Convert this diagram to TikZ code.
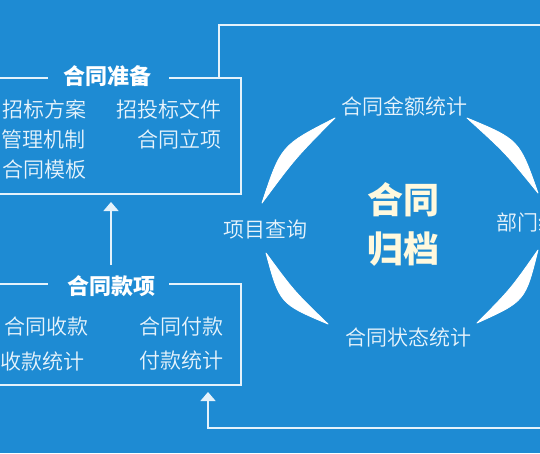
\documentclass[tikz,border=0pt]{standalone}
\usepackage{fontspec}
\setmainfont{Noto Sans CJK SC}
\newfontfamily\cjk{Noto Sans CJK SC}
\newfontfamily\cjklight{Noto Sans CJK SC DemiLight}
\usetikzlibrary{arrows.meta}
\definecolor{bgblue}{RGB}{30,139,211}
\definecolor{linecol}{RGB}{228,242,251}
\definecolor{itemcol}{RGB}{232,244,252}
\definecolor{centercol}{RGB}{255,249,222}
\tikzset{
  item/.style={inner sep=0pt, text=itemcol, font=\cjklight\fontsize{21}{21}\selectfont},
  boxtitle/.style={inner sep=0pt, text=white, font=\cjk\bfseries\fontsize{22}{22}\selectfont},
  bigtitle/.style={inner sep=0pt, text=centercol, font=\cjk\bfseries\fontsize{36}{36}\selectfont},
  frame/.style={draw=linecol, line width=1.5pt},
  arr/.style={draw=linecol, line width=1.5pt, -{Triangle[width=15pt,length=9pt]}},
  lens/.style={fill=white, draw=white, line width=0.8pt, line join=round}
}
\begin{document}
\begin{tikzpicture}[x=1pt,y=-1pt]
\fill[bgblue] (0,0) rectangle (540,453);
\clip (0,0) rectangle (540,453);

% box 1: 合同准备
\node[boxtitle] (tA) at (107.5,76) {合同准备};
\coordinate (A0) at (0,78);
\coordinate (A1) at (48,78);
\coordinate (A2) at (169,78);
\coordinate (A3) at (241,78);
\coordinate (A4) at (241,194);
\coordinate (A5) at (0,194);
\draw[frame] (A0) -- (A1);
\draw[frame] (A2) -- (A3) -- (A4) -- (A5);
\node[item] (a1) at (44.5,109) {招标方案};
\node[item] (a2) at (168.5,109) {招投标文件};
\node[item] (a3) at (43.8,139) {管理机制};
\node[item] (a4) at (179.5,139) {合同立项};
\node[item] (a5) at (44,170) {合同模板};

% box 2: 合同款项
\node[boxtitle] (tB) at (111.7,286) {合同款项};
\coordinate (B0) at (0,284);
\coordinate (B1) at (48,284);
\coordinate (B2) at (169,284);
\coordinate (B3) at (241,284);
\coordinate (B4) at (241,385);
\coordinate (B5) at (0,385);
\draw[frame] (B0) -- (B1);
\draw[frame] (B2) -- (B3) -- (B4) -- (B5);
\node[item] (b1) at (46.5,327) {合同收款};
\node[item] (b2) at (181.5,327) {合同付款};
\node[item] (b3) at (43,361) {收款统计};
\node[item] (b4) at (181,361) {付款统计};

% connectors
\coordinate (upS) at (111,265);
\coordinate (upT) at (111,202);
\draw[arr] (upS) -- (upT);
\coordinate (topS) at (219,78);
\coordinate (topK) at (219,25);
\coordinate (topE) at (540,25);
\draw[frame] (topS) -- (topK) -- (topE);
\coordinate (botS) at (540,428);
\coordinate (botK) at (208,428);
\coordinate (botT) at (208,392);
\draw[arr] (botS) -- (botK) -- (botT);

% ring of lenses
\filldraw[lens] (335,118) .. controls (281.0,145.5) .. (262,203) .. controls (295.5,157.9) .. (335,118) -- cycle;
\filldraw[lens] (467,118) .. controls (519.2,139.7) .. (538,193) .. controls (505.4,152.8) .. (467,118) -- cycle;
\filldraw[lens] (266,253) .. controls (279.7,303.6) .. (328,324) .. controls (294.0,291.1) .. (266,253) -- cycle;
\filldraw[lens] (538,250) .. controls (525.2,301.2) .. (477,323) .. controls (510.6,289.1) .. (538,250) -- cycle;

% labels round the ring
\node[item] (c1) at (404,106) {合同金额统计};
\node[item] (c2) at (265,230) {项目查询};
\node[item] (c3) at (408,337.5) {合同状态统计};
\node[item, anchor=west] (c4) at (496,222) {部门统计};

% centre
\node[bigtitle] (m1) at (403,200) {合同};
\node[bigtitle] (m2) at (403,249) {归档};
\end{tikzpicture}
\end{document}
